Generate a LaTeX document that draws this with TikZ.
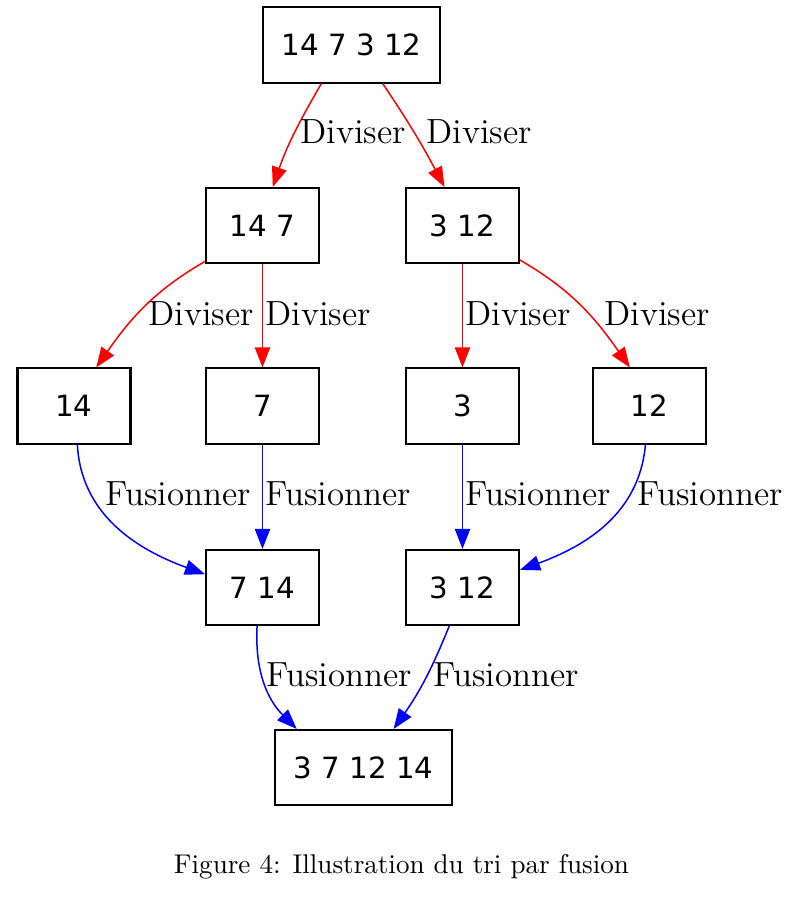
\documentclass[tikz,border=0pt]{standalone}
\usepackage{fontspec}
\usepackage{tikz}
\usetikzlibrary{arrows.meta}
\newfontfamily\boxfont{DejaVu Sans}

\begin{document}
\begin{tikzpicture}[x=0.369pt, y=0.369pt,
        case/.style={draw, line width=0.75pt, rectangle, minimum width=41.7pt, minimum height=27.7pt, inner sep=0pt, font=\boxfont\fontsize{10.8}{13}\selectfont},
        large/.style={case, minimum width=65pt},
        lbl/.style={anchor=base west, inner sep=0pt, font=\fontsize{12.9}{15}\selectfont},
        div/.style={red, line width=0.55pt, -{Triangle[length=7.4pt, width=5.6pt]}},
        fus/.style={blue, line width=0.55pt, -{Triangle[length=7.4pt, width=5.6pt]}}]
                \useasboundingbox (0, 0) rectangle (792, -898);
                \node[large] (all) at (351.5, -45) {14 7 3 12};
                \node[case] (l) at (262.5, -225.5) {14 7};
                \node[case] (r) at (462.5, -225.5) {3 12};
                \node[case] (ll) at (74, -406) {14};
                \node[case] (lr) at (262.5, -406) {7};
                \node[case] (rl) at (462.5, -406) {3};
                \node[case] (rr) at (649.5, -406) {12};
                \node[case] (ml) at (262.5, -587.5) {7 14};
                \node[case] (mr) at (462.5, -587.5) {3 12};
                \node[large] (res) at (363.5, -767.5) {3 7 12 14};
                % diviser
                \draw[div] (all.-128.6) to[out=-120, in=71] (l.75.8);
                \draw[div] (all.-51.4) to[out=-56, in=118] (r.115);
                \draw[div] (l.-148.6) to[out=-150, in=55] (ll.60.8);
                \draw[div] (l) -- (lr);
                \draw[div] (r) -- (rl);
                \draw[div] (r.-31.4) to[out=-30, in=125] (rr.117.5);
                \node[lbl] (d1) at (300, -143) {Diviser};
                \node[lbl] (d2) at (426, -143) {Diviser};
                \node[lbl] (d3) at (148, -325) {Diviser};
                \node[lbl] (d4) at (265, -325) {Diviser};
                \node[lbl] (d5) at (465, -325) {Diviser};
                \node[lbl] (d6) at (604, -325) {Diviser};
                % fusionner
                \draw[fus] (ll.-85.4) to[out=-87, in=160] (ml.167.5);
                \draw[fus] (lr) -- (ml);
                \draw[fus] (rl) -- (mr);
                \draw[fus] (rr.-96.8) to[out=-95, in=20] (mr.17.2);
                \draw[fus] (ml.-98.3) to[out=-93, in=135] (res.150.9);
                \draw[fus] (mr.-109.8) to[out=-112, in=55] (res.52.8);
                \node[lbl] (f1) at (105, -505) {Fusionner};
                \node[lbl] (f2) at (265, -505) {Fusionner};
                \node[lbl] (f3) at (465, -505) {Fusionner};
                \node[lbl] (f4) at (637, -505) {Fusionner};
                \node[lbl] (f5) at (266, -686) {Fusionner};
                \node[lbl] (f6) at (433, -686) {Fusionner};
                \node[anchor=base, inner sep=0pt] (cap) at (401.5, -873) {Figure 4: Illustration du tri par fusion};
            \end{tikzpicture}
\end{document}
